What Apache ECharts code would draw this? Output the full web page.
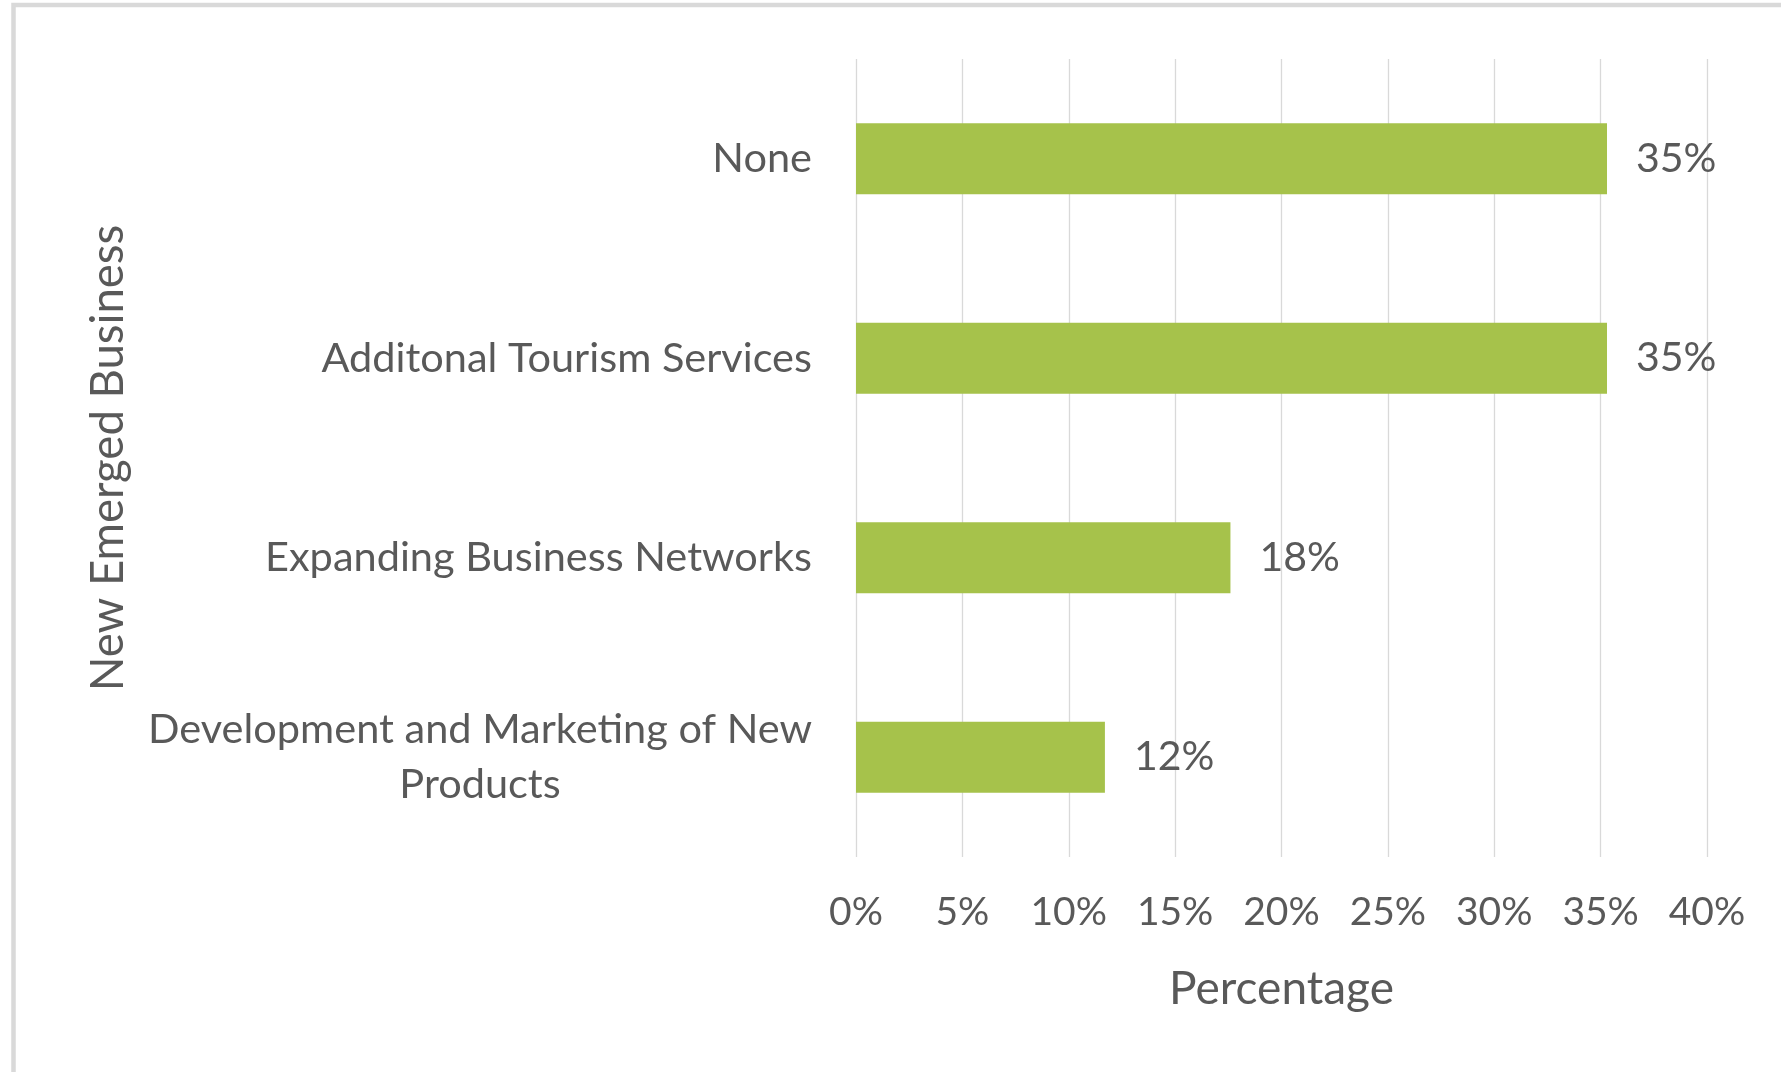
<!DOCTYPE html>
<html>
<head>
<meta charset="utf-8">
<title>New Emerged Business</title>
<script src="https://cdn.jsdelivr.net/npm/echarts@6/dist/echarts.min.js"></script>
<style>
  html, body { margin: 0; padding: 0; background: #ffffff; }
  #chart { width: 1781px; height: 1072px; }
</style>
</head>
<body>
<div id="chart"></div>
<script>
// Survey results: share of respondents per newly emerged business type
const categories = [
  'None',
  'Additonal Tourism Services',
  'Expanding Business Networks',
  'Development and Marketing of New\nProducts'
];
const percentages = [35.3, 35.3, 17.6, 11.7];
const tickValues = [0, 5, 10, 15, 20, 25, 30, 35, 40];

const FONT = 'Lato, "Open Sans", sans-serif';
const TEXT = '#595959';
const GRID = '#d9d9d9';
const BAR = '#a6c24b';

const chart = echarts.init(document.getElementById('chart'), null, { renderer: 'canvas' });

chart.setOption({
  backgroundColor: '#ffffff',
  animation: false,
  textStyle: { fontFamily: FONT, color: TEXT },
  graphic: [{
    type: 'rect',
    shape: { x: 13.5, y: 5, width: 2400, height: 2400 },
    style: { fill: 'none', stroke: GRID, lineWidth: 4.5 },
    silent: true
  }],
  grid: { left: 856, right: 74, top: 59, bottom: 215, containLabel: false },
  xAxis: {
    type: 'value',
    min: tickValues[0],
    max: tickValues[tickValues.length - 1],
    interval: tickValues[1] - tickValues[0],
    axisLine: { show: false },
    axisTick: { show: false },
    splitLine: { show: true, lineStyle: { color: GRID, width: 1.3 } },
    axisLabel: {
      margin: 36,
      fontSize: 39,
      color: TEXT,
      fontFamily: FONT,
      formatter: v => v + '%'
    },
    name: 'Percentage',
    nameLocation: 'middle',
    nameGap: 109,
    nameTextStyle: { fontSize: 46, color: TEXT, fontFamily: FONT }
  },
  yAxis: {
    type: 'category',
    data: categories,
    inverse: true,
    axisLine: { show: false },
    axisTick: { show: false },
    axisLabel: {
      margin: 44,
      color: TEXT,
      fontFamily: FONT,
      fontSize: 41.5,
      lineHeight: 55,
      formatter: v => v.split('\n').map(s => '{c|' + s + '}').join('\n'),
      rich: {
        c: { fontSize: 41.5, lineHeight: 55, color: TEXT, fontFamily: FONT, align: 'center' }
      }
    },
    name: 'New Emerged Business',
    nameLocation: 'middle',
    nameGap: 725,
    nameRotate: 90,
    nameTextStyle: { fontSize: 45.5, color: TEXT, fontFamily: FONT }
  },
  series: [{
    type: 'bar',
    data: percentages,
    barWidth: 71,
    itemStyle: { color: BAR },
    label: {
      show: true,
      position: 'right',
      distance: 29,
      fontSize: 41,
      color: TEXT,
      fontFamily: FONT,
      formatter: p => Math.round(p.value) + '%'
    }
  }]
});
</script>
</body>
</html>
